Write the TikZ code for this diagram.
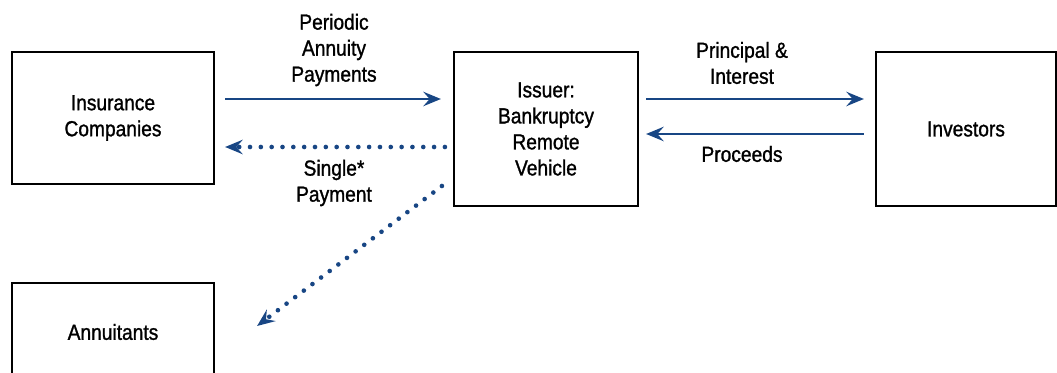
\documentclass[tikz,border=0pt]{standalone}
\usepackage{fontspec}
\setmainfont{Liberation Sans}[FakeStretch=0.88,FakeBold=1.2]
\usetikzlibrary{arrows.meta}
\definecolor{flowblue}{RGB}{24,70,132}

\begin{document}
\begin{tikzpicture}[x=0.025cm,y=0.025cm,
        party/.style={draw,line width=1.5pt,inner sep=0pt,align=center},
        tag/.style={align=center,inner sep=0pt},
        flow/.style={flowblue,line width=1.8pt,-{Stealth[length=0.44cm,width=0.36cm,inset=0.16cm]}},
        dotflow/.style={flow,line width=3.3pt,line cap=round,dash pattern=on 0pt off 7.7pt}]
        \fontsize{15.5}{18.5}\selectfont
        \useasboundingbox (0,0) rectangle (1057,373);

        \node[party,minimum width=5.05cm,minimum height=3.3cm] (ins) at (113,255) {Insurance\\Companies};
        \node[party,minimum width=4.6cm,minimum height=3.85cm] (iss) at (546,244) {Issuer:\\Bankruptcy\\Remote\\Vehicle};
        \node[party,minimum width=4.5cm,minimum height=3.85cm] (inv) at (966,244) {Investors};
        \node[party,minimum width=5.05cm,minimum height=2.45cm] (ann) at (113,41) {Annuitants};

        \node[tag] (pay) at (334,323) {Periodic\\Annuity\\Payments};
        \node[tag] (single) at (334,190) {Single*\\Payment};
        \node[tag] (pi) at (742,310) {Principal \&\\Interest};
        \node[tag] (proc) at (742,219) {Proceeds};

        \draw[flow] ([shift={(10,19)}]ins.east) -- ([shift={(-12,30)}]iss.west);
        \draw[dotflow] ([shift={(-8,-18)}]iss.west) -- ([shift={(10,-29)}]ins.east);
        \draw[dotflow] ([shift={(-11,-57)}]iss.west) -- ([shift={(42,6)}]ann.east);
        \draw[flow] ([shift={(7,30)}]iss.east) -- ([shift={(-11,30)}]inv.west);
        \draw[flow] ([shift={(-11,-5)}]inv.west) -- ([shift={(7,-5)}]iss.east);
\end{tikzpicture}
\end{document}
